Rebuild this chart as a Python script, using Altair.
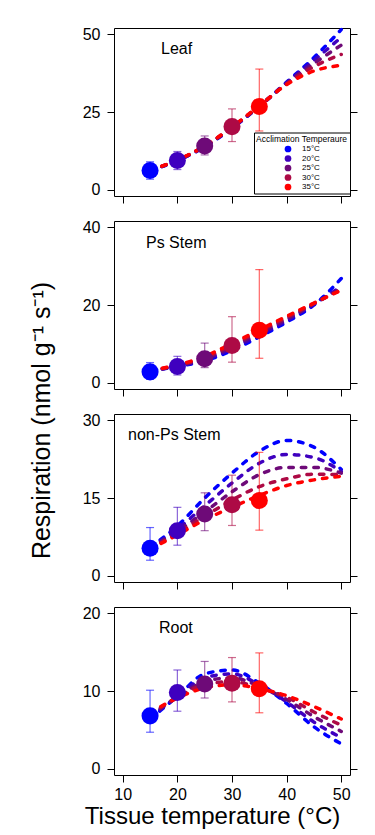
import altair as alt
import pandas as pd

# ---------------- data ----------------
tissues = ["Leaf", "Ps Stem", "non-Ps Stem", "Root"]
acc_labels = ["15°C", "20°C", "25°C", "30°C", "35°C"]
acc_temps = [15, 20, 25, 30, 35]
acc_colors = ["#0000FF", "#3F00BF", "#6E0A78", "#AD0A45", "#FF0000"]
curve_temps = [15, 20, 25, 30, 35, 40, 45, 50]

# measured means and error limits (one value per acclimation temperature)
leaf_mean = [6.2, 9.4, 14.1, 20.3, 26.8]
leaf_low = [3.4, 6.5, 11.2, 15.5, 18.9]
leaf_high = [9.0, 12.3, 17.3, 26.0, 38.8]

psstem_mean = [2.8, 4.2, 6.2, 9.6, 13.5]
psstem_low = [0.9, 2.0, 3.9, 5.3, 6.3]
psstem_high = [5.2, 6.8, 10.2, 17.0, 29.1]

npstem_mean = [5.3, 8.7, 11.9, 13.7, 14.5]
npstem_low = [3.0, 5.9, 8.7, 9.7, 8.8]
npstem_high = [9.3, 13.2, 16.0, 19.4, 23.8]

root_mean = [6.8, 9.8, 10.9, 11.0, 10.3]
root_low = [4.7, 7.4, 9.1, 8.6, 7.2]
root_high = [10.1, 12.7, 13.8, 14.3, 14.9]

# modelled curves (rows: acclimation 15..35 °C, columns: curve_temps)
leaf_curves = [
    [6.2, 9.4, 13.8, 19.8, 26.8, 34.6, 42.5, 51.5],
    [6.2, 9.4, 13.9, 19.9, 26.8, 34.4, 41.6, 49.0],
    [6.2, 9.5, 14.0, 20.0, 26.9, 34.2, 40.6, 46.5],
    [6.3, 9.5, 14.0, 20.1, 26.9, 34.0, 39.6, 43.5],
    [6.3, 9.6, 14.1, 20.2, 27.0, 33.8, 38.2, 40.0],
]
psstem_curves = [
    [3.0, 4.2, 5.6, 8.3, 11.8, 15.6, 20.0, 26.8],
    [3.0, 4.3, 5.9, 8.8, 12.3, 16.0, 20.2, 24.8],
    [3.0, 4.4, 6.2, 9.3, 12.8, 16.4, 20.3, 24.3],
    [3.1, 4.5, 6.5, 9.7, 13.2, 16.8, 20.4, 24.0],
    [3.2, 4.6, 6.8, 10.1, 13.6, 17.1, 20.5, 23.8],
]
npstem_curves = [
    [5.5, 9.6, 15.0, 19.8, 24.0, 26.1, 24.8, 20.5],
    [5.4, 9.0, 13.5, 17.9, 21.7, 23.4, 22.8, 20.1],
    [5.3, 8.6, 12.3, 16.2, 19.5, 20.9, 20.9, 19.8],
    [5.2, 8.2, 11.5, 14.6, 17.2, 18.7, 19.6, 19.5],
    [5.1, 7.9, 10.8, 13.2, 15.5, 17.4, 18.5, 19.2],
]
root_curves = [
    [6.4, 9.3, 12.2, 12.7, 11.0, 8.4, 5.4, 3.2],
    [6.6, 9.3, 11.7, 12.2, 10.8, 8.6, 6.0, 4.0],
    [6.8, 9.2, 11.2, 11.7, 10.6, 8.9, 6.7, 4.8],
    [7.0, 9.2, 10.8, 11.2, 10.4, 9.2, 7.3, 5.6],
    [7.2, 9.1, 10.4, 10.8, 10.3, 9.4, 8.0, 6.4],
]

y_domains = [[-2, 52], [-1.6, 41.6], [-1.2, 31.2], [-0.8, 20.8]]
y_ticks = [[0, 25, 50], [0, 20, 40], [0, 15, 30], [0, 10, 20]]
x_ticks = [10, 20, 30, 40, 50]

means = [leaf_mean, psstem_mean, npstem_mean, root_mean]
lows = [leaf_low, psstem_low, npstem_low, root_low]
highs = [leaf_high, psstem_high, npstem_high, root_high]
curves = [leaf_curves, psstem_curves, npstem_curves, root_curves]

# ---------------- tables ----------------
pt_rows, cv_rows = [], []
for ti, t in enumerate(tissues):
    for ai, a in enumerate(acc_labels):
        pt_rows.append(dict(tissue=t, acc=a, order=ai, temp=acc_temps[ai],
                            mean=means[ti][ai], lo=lows[ti][ai], hi=highs[ti][ai]))
        for xi, x in enumerate(curve_temps):
            cv_rows.append(dict(tissue=t, acc=a, order=ai, temp=x, resp=curves[ti][ai][xi]))
points_df = pd.DataFrame(pt_rows)
curves_df = pd.DataFrame(cv_rows)

FONT = "Liberation Sans"
W, H = 236, 168
color_scale = alt.Scale(domain=acc_labels, range=acc_colors)
x_scale = alt.Scale(domain=[8.4, 51.6], nice=False, zero=False)

label_pos = [(47, 42), (32, 39.5), (14, 39), (45, 39)]


def panel(i):
    name = tissues[i]
    pts = points_df[points_df.tissue == name]
    cur = curves_df[curves_df.tissue == name]
    ys = alt.Scale(domain=y_domains[i], nice=False, zero=False)
    bottom = i == 3

    if bottom:
        xaxis = alt.Axis(values=x_ticks, title="Tissue temperature (°C)", labels=True,
                         titleFontSize=24, titleFont=FONT, titleFontWeight="normal",
                         titleColor="black", titlePadding=2, titleX=98)
    else:
        xaxis = alt.Axis(values=x_ticks, title=None, labels=False)

    if i == 1:
        yleft = alt.Axis(values=y_ticks[i], title="Respiration (nmol g⁻¹ s⁻¹)",
                         titleFontSize=25, titleFont=FONT, titleFontWeight="normal",
                         titleColor="black", titleAngle=270, titleX=-73, titleY=199,
                         titleBaseline="middle", titleAlign="center", orient="left")
    else:
        yleft = alt.Axis(values=y_ticks[i], title=None, orient="left")
    yright = alt.Axis(values=y_ticks[i], title=None, labels=False, orient="right")

    x_enc = alt.X("temp:Q", scale=x_scale, axis=xaxis)
    c_plain = alt.Color("acc:N", scale=color_scale, legend=None)

    lines = alt.Chart(cur).mark_line(
        strokeWidth=3.5, strokeDash=[4.5, 8], strokeCap="round", interpolate="monotone"
    ).encode(
        x=x_enc,
        y=alt.Y("resp:Q", scale=ys, axis=yleft),
        color=c_plain,
        order=alt.Order("temp:Q"),
    )
    rules = alt.Chart(pts).mark_rule(strokeWidth=1.2, opacity=0.6).encode(
        x=x_enc, y=alt.Y("lo:Q", scale=ys, axis=None), y2="hi:Q", color=c_plain
    )
    cap_lo = alt.Chart(pts).mark_tick(orient="horizontal", size=8, thickness=1.2, opacity=0.6).encode(
        x=x_enc, y=alt.Y("lo:Q", scale=ys, axis=None), color=c_plain
    )
    cap_hi = alt.Chart(pts).mark_tick(orient="horizontal", size=8, thickness=1.2, opacity=0.6).encode(
        x=x_enc, y=alt.Y("hi:Q", scale=ys, axis=None), color=c_plain
    )
    if i == 0:
        legend = alt.Legend(
            title="Acclimation Temperaure", orient="none", legendX=140, legendY=104.5,
            direction="vertical", fillColor="white", strokeColor="black", padding=2,
            titleFontSize=8.5, titleFont=FONT, titleFontWeight="normal", titleColor="black",
            titlePadding=2, titleLimit=200, labelFontSize=8, labelFont=FONT, labelColor="black",
            symbolType="circle", symbolSize=45, symbolStrokeWidth=0, symbolOffset=28,
            labelOffset=10, rowPadding=1.5, symbolOpacity=1, cornerRadius=0,
        )
        f_pts = alt.Fill("acc:N", scale=color_scale, legend=legend)
    else:
        f_pts = alt.Fill("acc:N", scale=color_scale, legend=None)
    dots = alt.Chart(pts).mark_circle(size=290, opacity=1, strokeWidth=0).encode(
        x=x_enc, y=alt.Y("mean:Q", scale=ys, axis=yright), fill=f_pts
    )
    dx, dy = label_pos[i]
    return alt.layer(lines, rules, cap_lo, cap_hi, dots).resolve_axis(y="independent").properties(
        width=W, height=H,
        title=alt.TitleParams(text=name, anchor="start", frame="group", orient="top",
                              offset=0, dx=dx, dy=dy, baseline="middle", fontSize=16,
                              font=FONT, fontWeight="normal", color="black"),
    )


chart = alt.vconcat(*[panel(i) for i in range(4)], spacing=25, bounds="flush").properties(
    padding={"left": 28, "top": 22, "right": 5, "bottom": 5},
    background="white",
).resolve_legend(fill="independent").configure_view(stroke="black", strokeWidth=1).configure_axis(
    domain=False, ticks=True, tickColor="black", tickSize=7, tickWidth=1,
    labelFont=FONT, labelFontSize=16, labelColor="black", labelPadding=4, grid=False,
).configure_axisLeft(labelPadding=7)

chart.save("out.html", embed_options={"renderer": "svg", "actions": False})
